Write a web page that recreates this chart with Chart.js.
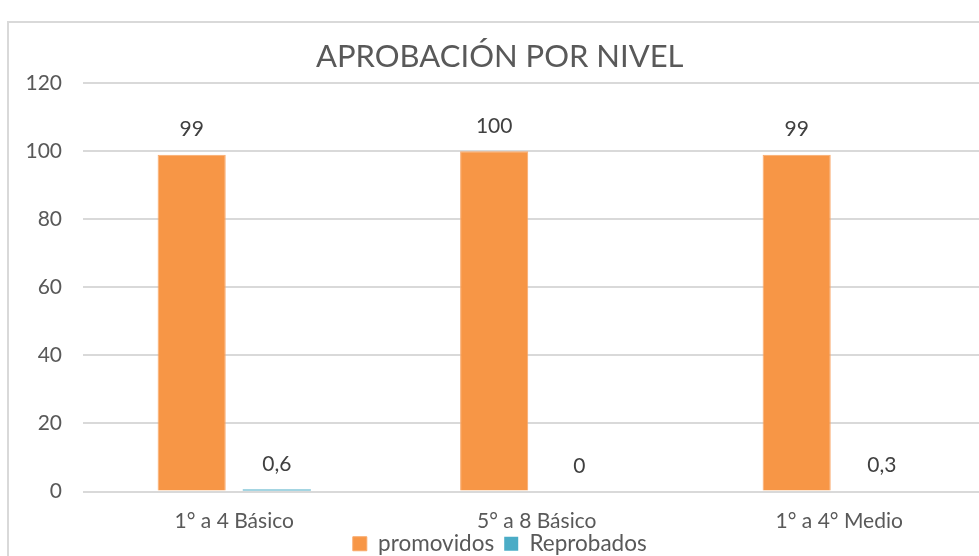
<!DOCTYPE html>
<html>
<head>
<meta charset="utf-8">
<script src="https://cdn.jsdelivr.net/npm/chart.js@4.4.0/dist/chart.umd.min.js"></script>
<style>
  html, body { margin: 0; padding: 0; background: #fff; overflow: hidden; width: 979px; height: 556px; }
  .frame { position: absolute; left: 7px; top: 21px; width: 1000px; height: 600px; border: 2px solid #d9d9d9; }
  #chart { position: absolute; left: 0; top: 0; }
</style>
</head>
<body>
<div class="frame">
  <canvas id="chart" width="988" height="558"></canvas>
</div>
<script>
  // Datos del gráfico
  const niveles = ['1° a 4 Básico', '5° a 8 Básico', '1° a 4° Medio'];
  const promovidos = [99, 100, 99];
  const reprobados = [0.6, 0, 0.3];
  const ticksY = [0, 20, 40, 60, 80, 100, 120];

  const FONT = 'Lato, "Open Sans", sans-serif';
  const GRIS = '#595959';

  // Etiquetas de valor sobre las barras
  const etiquetas = {
    id: 'etiquetas',
    afterDatasetsDraw(chart) {
      const ctx = chart.ctx;
      ctx.save();
      ctx.font = '21px ' + FONT;
      ctx.fillStyle = '#404040';
      ctx.textAlign = 'center';
      ctx.textBaseline = 'middle';
      chart.data.datasets.forEach((ds, i) => {
        chart.getDatasetMeta(i).data.forEach((bar, j) => {
          const txt = String(ds.data[j]).replace('.', ',');
          ctx.fillText(txt, bar.x, bar.y - 25);
        });
      });
      ctx.restore();
    }
  };

  // Sube un poco la leyenda, pegada a las etiquetas del eje
  const ajusteLeyenda = {
    id: 'ajusteLeyenda',
    afterLayout(chart) {
      const lg = chart.legend;
      if (lg) { lg.top -= 16; lg.bottom -= 16; }
    }
  };

  new Chart(document.getElementById('chart'), {
    type: 'bar',
    data: {
      labels: niveles,
      datasets: [
        {
          label: 'promovidos',
          data: promovidos,
          backgroundColor: '#F79646',
          borderColor: '#F9A86A',
          borderWidth: 1,
          categoryPercentage: 0.563,
          barPercentage: 0.8
        },
        {
          label: 'Reprobados',
          data: reprobados,
          backgroundColor: '#4BACC6',
          categoryPercentage: 0.563,
          barPercentage: 0.8
        }
      ]
    },
    options: {
      responsive: false,
      animation: false,
      devicePixelRatio: 1,
      layout: { padding: { left: 0, right: 6.5, top: 0, bottom: 0 } },
      plugins: {
        title: {
          display: true,
          text: 'APROBACIÓN POR NIVEL',
          color: GRIS,
          font: { family: FONT, size: 31, weight: 'normal' },
          padding: { top: 15, bottom: 8 }
        },
        legend: {
          position: 'bottom',
          labels: {
            color: GRIS,
            font: { family: FONT, size: 22.5 },
            boxWidth: 14,
            boxHeight: 14,
            padding: 10
          }
        },
        tooltip: { enabled: false }
      },
      scales: {
        x: {
          grid: { display: false, drawTicks: false },
          border: { display: false },
          ticks: { color: GRIS, font: { family: FONT, size: 21 }, padding: 17, maxRotation: 0 },
          afterFit(scale) { scale.height = 47; }
        },
        y: {
          min: 0,
          max: 120,
          afterBuildTicks(scale) { scale.ticks = ticksY.map(v => ({ value: v })); },
          grid: { color: '#d9d9d9', lineWidth: 2, drawTicks: false },
          border: { display: false },
          ticks: { color: GRIS, font: { family: FONT, size: 21 }, padding: 21 },
          afterFit(scale) { scale.width = 74; }
        }
      }
    },
    plugins: [etiquetas, ajusteLeyenda]
  });
</script>
</body>
</html>
